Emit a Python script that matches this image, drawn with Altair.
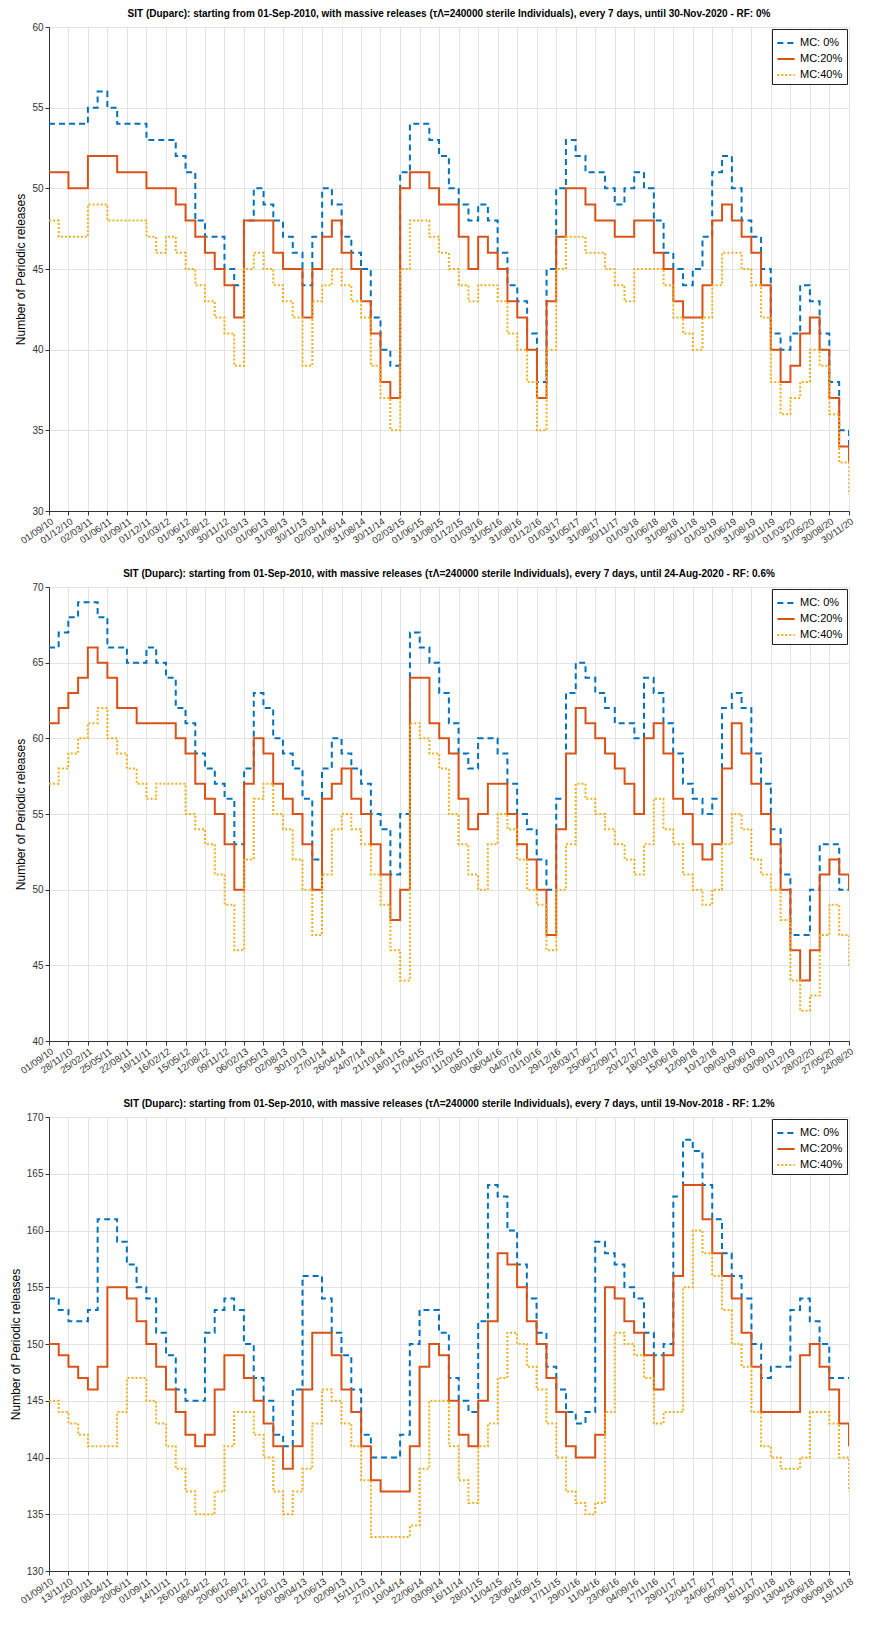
import pandas as pd
import altair as alt

# tick dates of each panel (dd/mm/yy as printed)
ticks_1 = ["01/09/10", "01/12/10", "02/03/11", "01/06/11", "01/09/11", "01/12/11", "01/03/12", "01/06/12",
           "31/08/12", "30/11/12", "01/03/13", "01/06/13", "31/08/13", "30/11/13", "02/03/14", "01/06/14",
           "31/08/14", "30/11/14", "02/03/15", "01/06/15", "31/08/15", "01/12/15", "01/03/16", "31/05/16",
           "31/08/16", "01/12/16", "01/03/17", "31/05/17", "31/08/17", "30/11/17", "01/03/18", "01/06/18",
           "31/08/18", "30/11/18", "01/03/19", "01/06/19", "31/08/19", "30/11/19", "01/03/20", "31/05/20",
           "30/08/20", "30/11/20"]
ticks_2 = ["01/09/10", "28/11/10", "25/02/11", "25/05/11", "22/08/11", "19/11/11", "16/02/12", "15/05/12",
           "12/08/12", "09/11/12", "06/02/13", "05/05/13", "02/08/13", "30/10/13", "27/01/14", "26/04/14",
           "24/07/14", "21/10/14", "18/01/15", "17/04/15", "15/07/15", "11/10/15", "08/01/16", "06/04/16",
           "04/07/16", "01/10/16", "29/12/16", "28/03/17", "25/06/17", "22/09/17", "20/12/17", "18/03/18",
           "15/06/18", "12/09/18", "10/12/18", "09/03/19", "06/06/19", "03/09/19", "01/12/19", "28/02/20",
           "27/05/20", "24/08/20"]
ticks_3 = ["01/09/10", "13/11/10", "25/01/11", "08/04/11", "20/06/11", "01/09/11", "14/11/11", "26/01/12",
           "08/04/12", "20/06/12", "01/09/12", "14/11/12", "26/01/13", "09/04/13", "21/06/13", "02/09/13",
           "15/11/13", "27/01/14", "10/04/14", "22/06/14", "03/09/14", "16/11/14", "28/01/15", "11/04/15",
           "23/06/15", "04/09/15", "17/11/15", "29/01/16", "11/04/16", "23/06/16", "04/09/16", "17/11/16",
           "29/01/17", "12/04/17", "24/06/17", "05/09/17", "18/11/17", "30/01/18", "13/04/18", "25/06/18",
           "06/09/18", "19/11/18"]

# values read at every tick and half-way between ticks
mc0_1 = [54, 54, 54, 54, 55, 56, 55, 54, 54, 54, 53, 53, 53, 52, 51, 48, 47, 47, 45, 44, 48, 50, 49, 48, 47,
         46, 44, 47, 50, 49, 47, 46, 45, 42, 40, 39, 51, 54, 54, 53, 52,
         50, 49, 48, 49, 48, 46, 44, 43, 41, 38, 45, 50, 53, 52, 51, 51, 50, 49, 50, 51, 50, 48, 46, 45, 44,
         45, 47, 51, 52, 50, 48, 47, 45, 41, 40, 41, 44, 43, 41, 38, 35, 34]
mc20_1 = [51, 51, 50, 50, 52, 52, 52, 51, 51, 51, 50, 50, 50, 49, 48, 47, 46, 45, 44, 42, 48, 48, 48, 46, 45,
          45, 42, 45, 47, 48, 46, 45, 43, 41, 38, 37, 50, 51, 51, 50, 49,
          49, 47, 45, 47, 46, 45, 43, 42, 40, 37, 43, 47, 50, 50, 49, 48, 48, 47, 47, 48, 48, 46, 45, 43, 42,
          42, 44, 48, 49, 48, 47, 46, 44, 40, 38, 39, 41, 42, 40, 37, 34, 33]
mc40_1 = [48, 47, 47, 47, 49, 49, 48, 48, 48, 48, 47, 46, 47, 46, 45, 44, 43, 42, 41, 39, 45, 46, 45, 44, 43,
          42, 39, 43, 44, 45, 44, 43, 42, 39, 37, 35, 45, 48, 48, 47, 46,
          45, 44, 43, 44, 44, 43, 41, 40, 38, 35, 40, 45, 47, 47, 46, 46, 45, 44, 43, 45, 45, 45, 44, 42, 41,
          40, 42, 44, 46, 46, 45, 44, 42, 38, 36, 37, 38, 40, 39, 36, 33, 31]

mc0_2 = [66, 67, 68, 69, 69, 68, 66, 66, 65, 65, 66, 65, 64, 62, 61, 59, 58, 57, 56, 53, 58, 63, 62, 60, 59,
         58, 56, 52, 58, 60, 59, 58, 57, 55, 54, 51, 55, 67, 66, 65, 63,
         61, 59, 58, 60, 60, 59, 57, 55, 54, 52, 50, 56, 63, 65, 64, 63, 62, 61, 61, 60, 64, 63, 61, 59, 57,
         56, 55, 56, 62, 63, 62, 59, 57, 54, 51, 47, 47, 50, 53, 53, 50, 50]
mc20_2 = [61, 62, 63, 64, 66, 65, 64, 62, 62, 61, 61, 61, 61, 60, 59, 57, 56, 55, 53, 50, 57, 60, 59, 57, 56,
          55, 53, 50, 56, 57, 58, 56, 55, 53, 51, 48, 50, 64, 64, 61, 60,
          59, 56, 54, 55, 57, 57, 55, 53, 52, 50, 47, 54, 59, 62, 61, 60, 59, 58, 57, 55, 60, 61, 59, 56, 55,
          53, 52, 53, 58, 61, 59, 57, 55, 53, 50, 46, 44, 46, 51, 52, 51, 50]
mc40_2 = [57, 58, 59, 60, 61, 62, 60, 59, 58, 57, 56, 57, 57, 57, 55, 54, 53, 51, 49, 46, 52, 56, 57, 55, 54,
          52, 50, 47, 51, 54, 55, 54, 53, 51, 49, 46, 44, 61, 60, 59, 58,
          55, 53, 51, 50, 53, 55, 54, 52, 50, 49, 46, 50, 53, 57, 56, 55, 54, 53, 52, 51, 53, 56, 54, 53, 51,
          50, 49, 50, 53, 55, 54, 52, 51, 50, 48, 44, 42, 43, 47, 49, 47, 45]

mc0_3 = [154, 153, 152, 152, 153, 161, 161, 159, 157, 155, 154, 151, 149, 146, 145, 145, 151, 153, 154, 153,
         150, 147, 145, 142, 141, 146, 156, 156, 154, 151, 149, 146, 142, 140, 140, 140, 142, 150, 153, 153, 151,
         147, 145, 144, 152, 164, 163, 160, 157, 154, 151, 148, 146, 144, 143, 144, 159, 158, 157, 155, 154,
         151, 149, 150, 163, 168, 167, 164, 161, 158, 156, 154, 150, 147, 148, 148, 153, 154, 152, 150, 147,
         147, 147]
mc20_3 = [150, 149, 148, 147, 146, 148, 155, 155, 154, 152, 150, 148, 146, 144, 142, 141, 142, 146, 149, 149,
          147, 145, 143, 141, 139, 141, 146, 151, 151, 149, 146, 144, 141, 138, 137, 137, 137, 141, 148, 150, 149,
          145, 142, 141, 145, 152, 158, 157, 155, 152, 150, 147, 144, 141, 140, 140, 142, 155, 154, 152, 151,
          149, 146, 149, 156, 164, 164, 161, 158, 156, 154, 151, 148, 144, 144, 144, 144, 149, 150, 148, 146,
          143, 141]
mc40_3 = [145, 144, 143, 142, 141, 141, 141, 144, 147, 147, 145, 143, 141, 139, 137, 135, 135, 137, 141, 144,
          144, 142, 140, 137, 135, 137, 139, 143, 146, 145, 143, 141, 138, 133, 133, 133, 133, 134, 139, 145, 145,
          141, 138, 136, 141, 143, 147, 151, 150, 148, 146, 143, 140, 137, 136, 135, 136, 144, 151, 150, 149,
          147, 143, 144, 144, 155, 160, 158, 156, 153, 150, 148, 144, 141, 140, 139, 139, 140, 144, 144, 143,
          140, 137]

series = ["MC: 0%", "MC:20%", "MC:40%"]
colors = ["#0072BD", "#D95319", "#EDB120"]
dashes = [[6, 4], [1, 0], [2, 2]]

TITLE = ("SIT (Duparc): starting from 01-Sep-2010, with massive releases (\u03c4\u039b=240000 sterile "
         "Individuals), every 7 days,  until {} - RF: {}")


def panel(ticks, vals, until, rf, ydom, height):
    td = pd.to_datetime(ticks, format="%d/%m/%y")
    dates = []
    for i in range(len(td) - 1):
        dates += [td[i], td[i] + (td[i + 1] - td[i]) / 2]
    dates.append(td[-1])
    rows = []
    for name, v in zip(series, vals):
        rows += [{"date": d, "value": y, "series": name} for d, y in zip(dates, v)]
    df = pd.DataFrame(rows)
    tick_vals = [alt.DateTime(year=t.year, month=t.month, date=t.day) for t in td]
    return alt.Chart(df).mark_line(interpolate="step-after", strokeWidth=2, clip=True).encode(
        x=alt.X("date:T", title=None,
                scale=alt.Scale(domain=[tick_vals[0], tick_vals[-1]]),
                axis=alt.Axis(values=tick_vals, format="%d/%m/%y", labelAngle=-35, labelAlign="right",
                              labelBaseline="top", labelFontSize=9.5, labelColor="#333", tickColor="#333",
                              domainColor="#333", gridColor="#e3e3e3", labelOverlap=False,
                              labelPadding=1, tickSize=4)),
        y=alt.Y("value:Q", title="Number of Periodic releases",
                scale=alt.Scale(domain=ydom, nice=False),
                axis=alt.Axis(values=list(range(ydom[0], ydom[1] + 1, 5)),
                              labelFontSize=10, labelColor="#333", titleFontSize=12,
                              titleFontWeight="normal", gridColor="#e3e3e3", domainColor="#333",
                              tickColor="#333", tickSize=4)),
        color=alt.Color("series:N", scale=alt.Scale(domain=series, range=colors),
                        legend=alt.Legend(title=None, orient="top-right", offset=2, strokeColor="#222",
                                          fillColor="white", padding=4, symbolType="stroke",
                                          symbolStrokeWidth=2, symbolSize=300, labelFontSize=11,
                                          rowPadding=1)),
        strokeDash=alt.StrokeDash("series:N", scale=alt.Scale(domain=series, range=dashes), legend=None),
    ).properties(
        width=800, height=height,
        title=alt.Title(TITLE.format(until, rf), fontSize=10, fontWeight="bold", offset=3),
    )


chart = alt.vconcat(
    panel(ticks_1, [mc0_1, mc20_1, mc40_1], "30-Nov-2020", "0%", [30, 60], 484),
    panel(ticks_2, [mc0_2, mc20_2, mc40_2], "24-Aug-2020", "0.6%", [40, 70], 454),
    panel(ticks_3, [mc0_3, mc20_3, mc40_3], "19-Nov-2018", "1.2%", [130, 170], 454),
    spacing=22,
).resolve_scale(color="independent", strokeDash="independent").configure_view(
    stroke="#222"
).configure(font="Liberation Sans", padding={"left": 0, "top": 0, "right": 2, "bottom": 0})

chart.save("out.html", embed_options={"renderer": "svg", "actions": False})
